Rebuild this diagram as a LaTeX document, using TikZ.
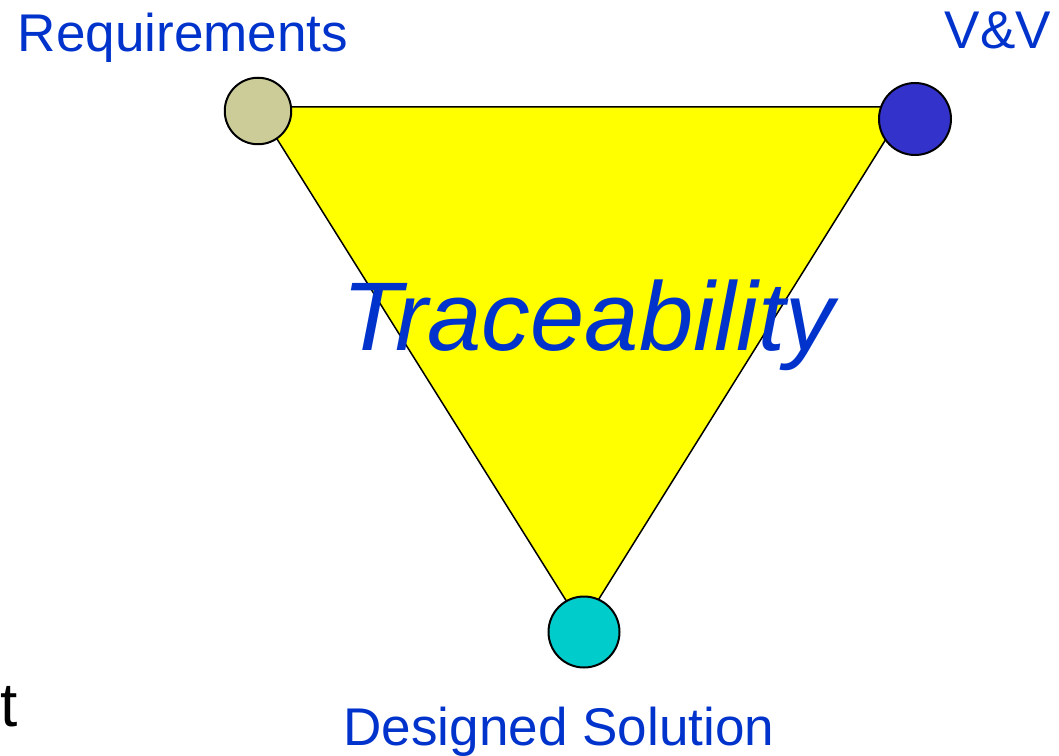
\documentclass[tikz,border=0pt]{standalone}
\usepackage{fontspec}
\setmainfont{Liberation Sans}
\usepackage{xcolor}
\usetikzlibrary{positioning}
\definecolor{reqtan}{HTML}{CCCC99}
\definecolor{vvblue}{HTML}{3333CC}
\definecolor{solcyan}{HTML}{00CCCC}
\definecolor{txtblue}{HTML}{0033CC}
\definecolor{triyellow}{HTML}{FFFF00}
\tikzset{%
	vertex/.style  = {draw, circle, line width=0.4mm, inner sep=0pt},
	corner/.style  = {text=txtblue, anchor=base, inner sep=0pt, font=\fontsize{30.2}{36}\selectfont},
	tribody/.style = {draw, fill=triyellow, line width=0.3mm, line join=round},
}

\begin{document}
\begin{tikzpicture}[x=0.2mm,y=-0.2mm]
	\useasboundingbox (0,0) rectangle (1059,756);
	
	\coordinate (tl) at (257,107);  % triangle corners
	\coordinate (tr) at (906,107);
	\coordinate (tb) at (582,626);
	\filldraw[tribody] (tl) -- (tr) -- (tb) -- cycle;
	
	\node[vertex, fill=reqtan, minimum size=13.3mm] (req) at (258,111) {};
	\node[vertex, fill=vvblue, minimum size=14.4mm] (vv) at (915,119) {};
	\node[vertex, fill=solcyan, minimum size=14.2mm] (sol) at (584,632) {};
	
	\node[corner] (reqtext) at (183,51.7) {Requirements};
	\node[corner] (vvtext) at (998,48.3) {V\&V};
	\node[corner] (soltext) at (559,745.7) {Designed Solution};
	
	\node[text=txtblue, anchor=base, inner sep=0pt, font=\fontsize{55.5}{62}\selectfont\itshape] (trace) at (588.5,350.7) {Traceability};
	\node[anchor=base west, inner sep=0pt, font=\fontsize{35.3}{40}\selectfont] (tmark) at (0,726.7) {t};
\end{tikzpicture}
\end{document}
